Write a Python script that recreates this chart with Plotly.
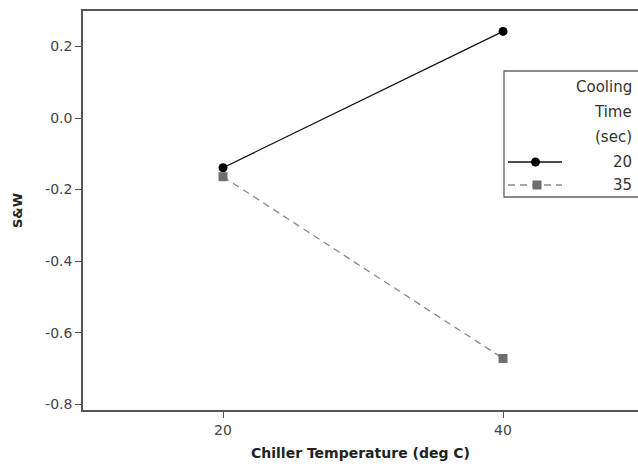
import plotly.graph_objects as go

# Data
chiller_temp = [20, 40]
cooling_times = ["20", "35"]
sw_20 = [-0.139, 0.242]
sw_35 = [-0.164, -0.672]
y_ticks = [0.2, 0.0, -0.2, -0.4, -0.6, -0.8]
y_ticklabels = ["0.2", "0.0", "-0.2", "-0.4", "-0.6", "-0.8"]
x_ticks = [20, 40]

W, H = 638, 466
L, T, R, B = 83, 11, 0, 56
PW, PH = W - L - R, H - T - B

def px(x):
    return (x - L) / PW

def py(y):
    return (H - B - y) / PH

FONT = "DejaVu Sans"
AXC = "#555555"

fig = go.Figure()
fig.add_trace(go.Scatter(
    x=chiller_temp, y=sw_20, mode="lines+markers", name=cooling_times[0],
    line=dict(color="#111111", width=1.3),
    marker=dict(symbol="circle", size=9, color="#000000"),
    showlegend=False))
fig.add_trace(go.Scatter(
    x=chiller_temp, y=sw_35, mode="lines+markers", name=cooling_times[1],
    line=dict(color="#8a8a8a", width=1.3, dash="7px,5px"),
    marker=dict(symbol="square", size=9, color="#6e6e6e"),
    showlegend=False))

fig.update_layout(
    width=W, height=H,
    margin=dict(l=L, t=T, r=R, b=B, autoexpand=False),
    paper_bgcolor="white", plot_bgcolor="white",
    font=dict(family=FONT, size=14, color="#444444"),
    xaxis=dict(
        range=[10, 49.64], tickvals=x_ticks, ticktext=[str(v) for v in x_ticks],
        showgrid=False, zeroline=False, showline=True, mirror=True,
        linecolor=AXC, linewidth=1.5, ticks="outside", ticklen=6,
        tickcolor=AXC, tickwidth=1.2,
        tickfont=dict(family=FONT, size=14, color="#444444"),
        title=dict(text="Chiller Temperature (deg C)", standoff=12,
                   font=dict(family=FONT, size=14, color="#222222", weight="bold")),
    ),
    yaxis=dict(
        range=[-0.816, 0.299], tickvals=y_ticks, ticktext=y_ticklabels,
        showgrid=False, zeroline=False, showline=True, mirror=False,
        linecolor=AXC, linewidth=1.5, ticks="outside", ticklen=6,
        tickcolor=AXC, tickwidth=1.2,
        tickfont=dict(family=FONT, size=14, color="#444444"),
        title=dict(text="S&W", standoff=20,
                   font=dict(family=FONT, size=13, color="#222222", weight="bold")),
    ),
)

# Manual legend (box, keys, text)
shapes = []
shapes.append(dict(type="rect", xref="paper", yref="paper",
                   x0=px(504), x1=px(660), y0=py(197), y1=py(71),
                   line=dict(color="#666666", width=1.3), fillcolor="white", layer="above"))
shapes.append(dict(type="line", xref="paper", yref="paper",
                   x0=px(508), x1=px(562), y0=py(162), y1=py(162),
                   line=dict(color="#111111", width=1.3), layer="above"))
shapes.append(dict(type="line", xref="paper", yref="paper",
                   x0=px(508), x1=px(562), y0=py(185), y1=py(185),
                   line=dict(color="#8a8a8a", width=1.3, dash="7px,5px"), layer="above"))
shapes.append(dict(type="circle", xref="paper", yref="paper",
                   x0=px(531), x1=px(540), y0=py(166.5), y1=py(157.5),
                   line=dict(color="#000000", width=0), fillcolor="#000000", layer="above"))
shapes.append(dict(type="rect", xref="paper", yref="paper",
                   x0=px(532.5), x1=px(541.5), y0=py(189.5), y1=py(180.5),
                   line=dict(color="#6e6e6e", width=0), fillcolor="#6e6e6e", layer="above"))
fig.update_layout(shapes=shapes)

legend_lines = [("Cooling", 87), ("Time", 112), ("(sec)", 137),
                (cooling_times[0], 162), (cooling_times[1], 185)]
for txt, yy in legend_lines:
    fig.add_annotation(text=txt, xref="paper", yref="paper",
                       x=px(634), y=py(yy), xanchor="right", yanchor="middle",
                       showarrow=False,
                       font=dict(family=FONT, size=15, color="#333333"))

fig.write_html("out.html")
